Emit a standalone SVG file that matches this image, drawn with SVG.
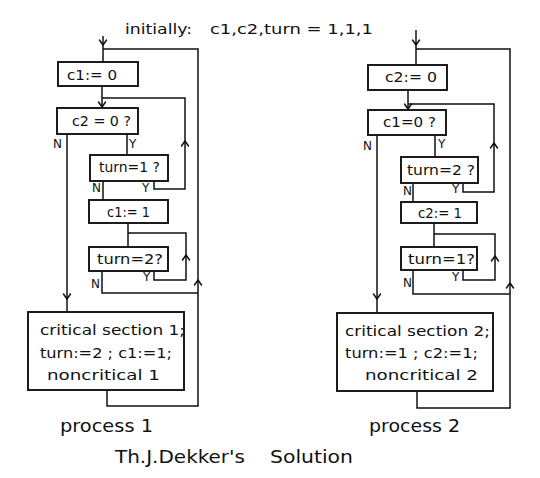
<svg xmlns="http://www.w3.org/2000/svg" width="540" height="478" viewBox="0 0 540 478">
<style>
.box{fill:#fff;stroke:#111;stroke-width:1.9}
.ln{fill:none;stroke:#111;stroke-width:1.5}
.ar{fill:none;stroke:#111;stroke-width:1.5;stroke-linecap:round;stroke-linejoin:round}
text{font-family:"DejaVu Sans","Liberation Sans",sans-serif;fill:#111}
.t{font-size:14px}
.c{font-size:14px}
.yn{font-size:12px}
.big{font-size:18px}
</style>
<defs>
<path id="dn" class="ar" d="M-3.5,-5 L0,0 L3.5,-5"/>
<path id="up" class="ar" d="M-3.5,5 L0,0 L3.5,5"/>
</defs>
<rect width="540" height="478" fill="#fff"/>
<text class="t" x="125" y="34" textLength="67" lengthAdjust="spacingAndGlyphs">initially:</text>
<text class="t" x="210" y="34" textLength="163" lengthAdjust="spacingAndGlyphs">c1,c2,turn = 1,1,1</text>
<g id="connectors">
<path class="ln" d="M103,36 V62"/>
<path class="ln" d="M103,49 H198 V406 H107 V390"/>
<path class="ln" d="M102,86 V108"/>
<path class="ln" d="M102,98 H185 V189 H154 V181"/>
<path class="ln" d="M67,134 V312"/>
<path class="ln" d="M127,134 V155"/>
<path class="ln" d="M103,181 V200"/>
<path class="ln" d="M128,223 V247"/>
<path class="ln" d="M128,233 H186 V280 H154 V271"/>
<path class="ln" d="M102,271 V293 H198"/>
<use href="#dn" x="103" y="45"/>
<use href="#dn" x="102" y="107"/>
<use href="#up" x="185" y="141"/>
<use href="#up" x="186" y="255"/>
<use href="#up" x="198" y="280"/>
<use href="#dn" x="67" y="299"/>
<path class="ln" d="M416,30 V65"/>
<path class="ln" d="M416,49 H510 V408 H417 V391"/>
<path class="ln" d="M408,90 V110"/>
<path class="ln" d="M408,104 H494 V192 H463 V183"/>
<path class="ln" d="M377,135 V313"/>
<path class="ln" d="M435,135 V157"/>
<path class="ln" d="M413,183 V202"/>
<path class="ln" d="M434,223 V247"/>
<path class="ln" d="M434,234 H495 V280 H463 V270"/>
<path class="ln" d="M413,270 V294 H510"/>
<use href="#dn" x="416" y="45"/>
<use href="#dn" x="408" y="109"/>
<use href="#up" x="494" y="143"/>
<use href="#up" x="495" y="256"/>
<use href="#up" x="510" y="283"/>
<use href="#dn" x="377" y="299"/>
<text class="yn" x="53" y="148">N</text>
<text class="yn" x="129" y="148">Y</text>
<text class="yn" x="92" y="192">N</text>
<text class="yn" x="142" y="192">Y</text>
<text class="yn" x="143" y="281">Y</text>
<text class="yn" x="91" y="288">N</text>
<text class="yn" x="363" y="150">N</text>
<text class="yn" x="438" y="148">Y</text>
<text class="yn" x="403" y="195">N</text>
<text class="yn" x="452" y="193">Y</text>
<text class="yn" x="452" y="281">Y</text>
<text class="yn" x="403" y="287">N</text>
</g>
<g id="p1_c1_0"><rect class="box" x="58" y="62" width="80" height="24"/><text class="c" x="67" y="80" textLength="50" lengthAdjust="spacingAndGlyphs">c1:= 0</text></g>
<g id="p1_c2_test"><rect class="box" x="57" y="108" width="81" height="26"/><text class="c" x="72" y="126" textLength="59" lengthAdjust="spacingAndGlyphs">c2 = 0 ?</text></g>
<g id="p1_turn1"><rect class="box" x="90" y="155" width="78" height="26"/><text class="c" x="99" y="172" textLength="61" lengthAdjust="spacingAndGlyphs">turn=1 ?</text></g>
<g id="p1_c1_1"><rect class="box" x="89" y="200" width="79" height="23"/><text class="c" x="107" y="217" textLength="43" lengthAdjust="spacingAndGlyphs">c1:= 1</text></g>
<g id="p1_turn2"><rect class="box" x="89" y="247" width="79" height="24"/><text class="c" x="97" y="264" textLength="66" lengthAdjust="spacingAndGlyphs">turn=2?</text></g>
<g id="p1_critical"><rect class="box" x="28" y="312" width="156" height="78"/>
<text class="c" x="40" y="335" textLength="145" lengthAdjust="spacingAndGlyphs">critical section 1;</text>
<text class="c" x="40" y="358" textLength="132" lengthAdjust="spacingAndGlyphs">turn:=2 ; c1:=1;</text>
<text class="c" x="47" y="380" textLength="113" lengthAdjust="spacingAndGlyphs">noncritical 1</text></g>
<g id="p2_c2_0"><rect class="box" x="368" y="65" width="79" height="25"/><text class="c" x="385" y="82" textLength="52" lengthAdjust="spacingAndGlyphs">c2:= 0</text></g>
<g id="p2_c1_test"><rect class="box" x="368" y="110" width="78" height="25"/><text class="c" x="383" y="127" textLength="53" lengthAdjust="spacingAndGlyphs">c1=0 ?</text></g>
<g id="p2_turn2"><rect class="box" x="401" y="157" width="77" height="26"/><text class="c" x="407" y="175" textLength="68" lengthAdjust="spacingAndGlyphs">turn=2 ?</text></g>
<g id="p2_c2_1"><rect class="box" x="401" y="202" width="76" height="21"/><text class="c" x="418" y="218" textLength="44" lengthAdjust="spacingAndGlyphs">c2:= 1</text></g>
<g id="p2_turn1"><rect class="box" x="401" y="247" width="76" height="23"/><text class="c" x="408" y="264" textLength="67" lengthAdjust="spacingAndGlyphs">turn=1?</text></g>
<g id="p2_critical"><rect class="box" x="337" y="313" width="156" height="78"/>
<text class="c" x="345" y="336" textLength="145" lengthAdjust="spacingAndGlyphs">critical section 2;</text>
<text class="c" x="345" y="358" textLength="133" lengthAdjust="spacingAndGlyphs">turn:=1 ; c2:=1;</text>
<text class="c" x="365" y="380" textLength="113" lengthAdjust="spacingAndGlyphs">noncritical 2</text></g>
<text class="big" x="60" y="432" textLength="93" lengthAdjust="spacingAndGlyphs">process 1</text>
<text class="big" x="369" y="432" textLength="91" lengthAdjust="spacingAndGlyphs">process 2</text>
<text class="big" x="115" y="463" textLength="130" lengthAdjust="spacingAndGlyphs">Th.J.Dekker's</text>
<text class="big" x="270" y="463" textLength="83" lengthAdjust="spacingAndGlyphs">Solution</text>
</svg>
